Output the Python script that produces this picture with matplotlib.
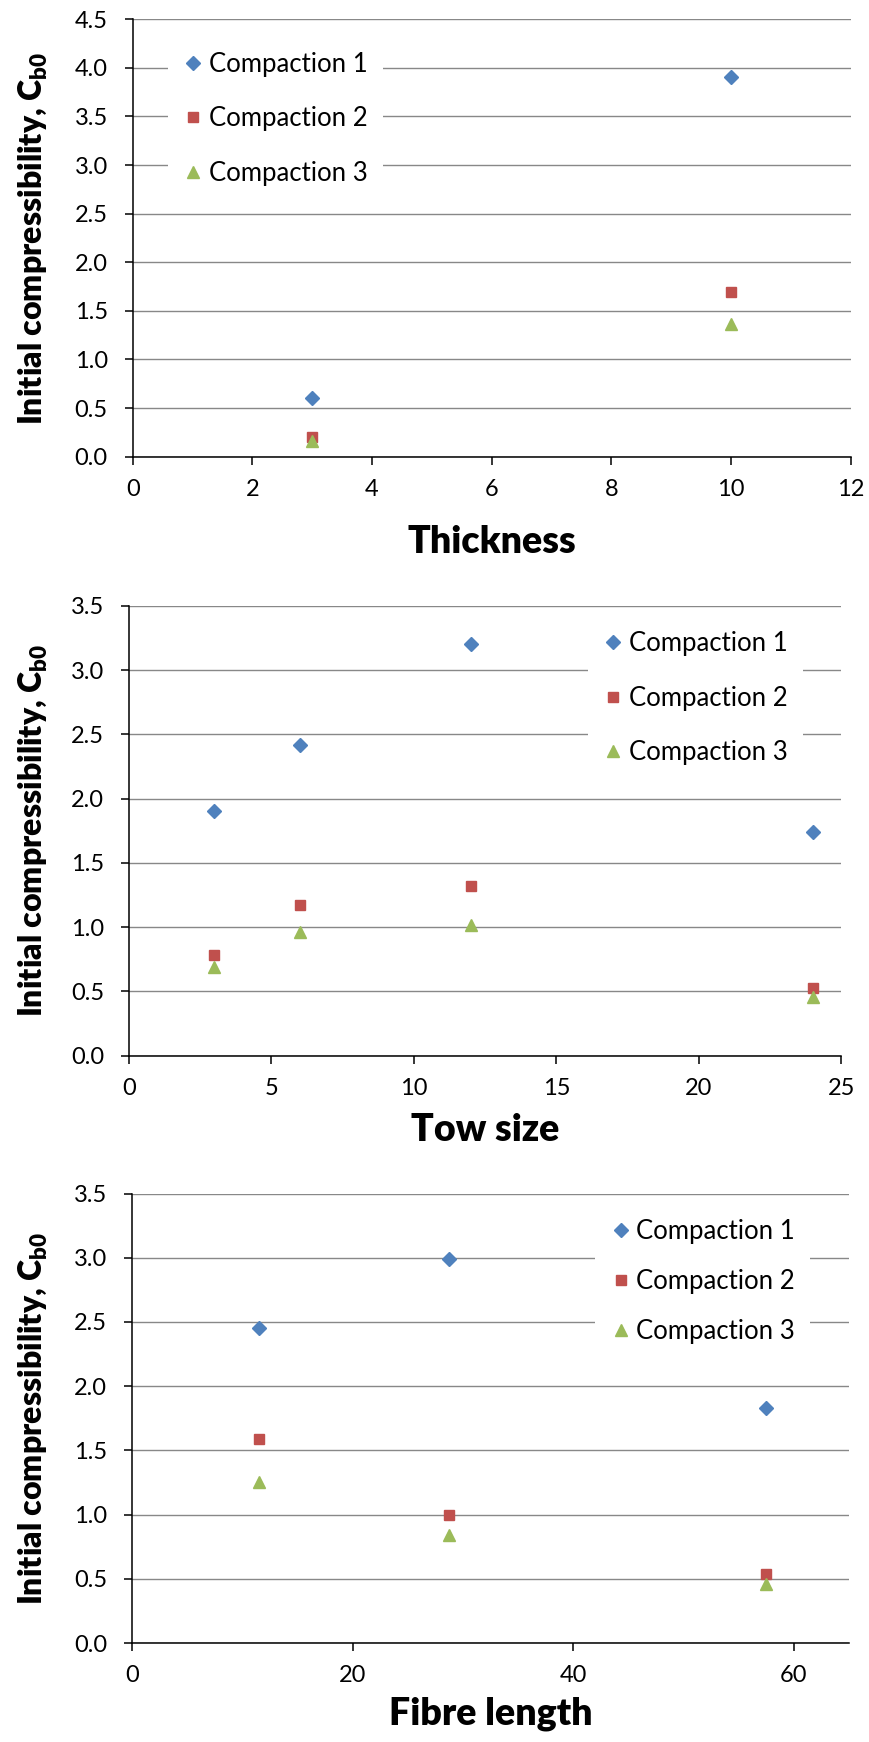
import matplotlib
matplotlib.use("Agg")
import matplotlib.pyplot as plt

# ---- data -------------------------------------------------------------
series_names = ["Compaction 1", "Compaction 2", "Compaction 3"]

thickness = [3, 10]
thick_c1 = [0.60, 3.91]
thick_c2 = [0.20, 1.69]
thick_c3 = [0.16, 1.37]

tow_size = [3, 6, 12, 24]
tow_c1 = [1.90, 2.42, 3.20, 1.74]
tow_c2 = [0.78, 1.17, 1.32, 0.53]
tow_c3 = [0.69, 0.96, 1.02, 0.46]

fibre_length = [11.5, 28.75, 57.5]
fibre_c1 = [2.45, 2.99, 1.83]
fibre_c2 = [1.59, 1.00, 0.54]
fibre_c3 = [1.25, 0.84, 0.46]

# ---- style ------------------------------------------------------------
FONT = "Lato"
plt.rcParams["font.family"] = [FONT, "DejaVu Sans"]
plt.rcParams["mathtext.fontset"] = "custom"
plt.rcParams["mathtext.rm"] = FONT
plt.rcParams["mathtext.bf"] = FONT + ":heavy"

colors = ["#4F81BD", "#C0504D", "#9BBB59"]
markers = ["D", "s", "^"]
msizes = [6.8, 7.5, 8.0]
grid_color = "#888888"
tick_fs = 17
legend_fs = 18.5
label_fs = 27
ylabel_fs = 23

W, H = 869, 1742
fig = plt.figure(figsize=(W / 100, H / 100), dpi=100)


def px_axes(left, top, right, bottom):
    return fig.add_axes([left / W, 1 - bottom / H, (right - left) / W, (bottom - top) / H])


def style(ax, xlim, xticks, ylim, yticks, xlabel, xlabel_off, leg_anchor, leg_spacing):
    ax.set_xlim(*xlim)
    ax.set_ylim(*ylim)
    ax.set_xticks(xticks)
    ax.set_yticks(yticks)
    ax.set_yticklabels([f"{v:.1f}" for v in yticks])
    ax.grid(axis="y", color=grid_color, linewidth=1.0, zorder=0)
    ax.set_axisbelow(True)
    for s in ["top", "right"]:
        ax.spines[s].set_visible(False)
    for s in ["left", "bottom"]:
        ax.spines[s].set_color("black")
        ax.spines[s].set_linewidth(1.1)
    ax.tick_params(axis="both", direction="out", length=6, width=1.1, color="black",
                   labelsize=tick_fs)
    ax.tick_params(axis="y", pad=12)
    ax.tick_params(axis="x", pad=10)
    ax.set_xlabel(xlabel, fontsize=label_fs, fontweight="heavy")
    ax.xaxis.set_label_coords(0.5, xlabel_off)
    ax.xaxis.label.set_va("center")
    ax.set_ylabel(r"Initial compressibility, $\mathbf{C_{b0}}$",
                  fontsize=ylabel_fs, fontweight="heavy")
    ax.yaxis.label.set_va("center")
    leg = ax.legend(loc="upper left", bbox_to_anchor=leg_anchor, fontsize=legend_fs,
                    frameon=True, facecolor="white", edgecolor="none", framealpha=1,
                    fancybox=False, handlelength=0.8, handletextpad=0.2,
                    labelspacing=leg_spacing, borderpad=0.6, borderaxespad=0)
    leg.set_zorder(2)


def plot_series(ax, x, ys):
    for y, c, m, ms, name in zip(ys, colors, markers, msizes, series_names):
        ax.plot(x, y, linestyle="none", marker=m, markersize=ms, color=c,
                markeredgecolor=c, label=name, zorder=3, clip_on=False)


def set_ylabel_x(ax, xpx):
    # centre the y label at an absolute horizontal pixel position
    bb = ax.get_position()
    ax.yaxis.set_label_coords((xpx / W - bb.x0) / bb.width, 0.5)


# ---- top: thickness ---------------------------------------------------
ax1 = px_axes(132.7, 19.3, 850.7, 456.7)
plot_series(ax1, thickness, [thick_c1, thick_c2, thick_c3])
style(ax1, (0, 12), range(0, 13, 2), (0, 4.5), [i * 0.5 for i in range(10)],
      "Thickness", -85 / 437.4, (0.0486, 0.961), 1.15)
set_ylabel_x(ax1, 33)

# ---- middle: tow size -------------------------------------------------
ax2 = px_axes(129, 605.7, 841.3, 1055.8)
plot_series(ax2, tow_size, [tow_c1, tow_c2, tow_c3])
style(ax2, (0, 25), range(0, 26, 5), (0, 3.5), [i * 0.5 for i in range(8)],
      "Tow size", -74 / 450.1, (0.644, 0.978), 1.15)
set_ylabel_x(ax2, 33)

# ---- bottom: fibre length ---------------------------------------------
ax3 = px_axes(132, 1193.5, 849, 1643)
plot_series(ax3, fibre_length, [fibre_c1, fibre_c2, fibre_c3])
style(ax3, (0, 65), range(0, 61, 20), (0, 3.5), [i * 0.5 for i in range(8)],
      "Fibre length", -71 / 449.5, (0.646, 0.978), 0.98)
set_ylabel_x(ax3, 33)

fig.savefig("out.png", dpi=100, facecolor="white")
